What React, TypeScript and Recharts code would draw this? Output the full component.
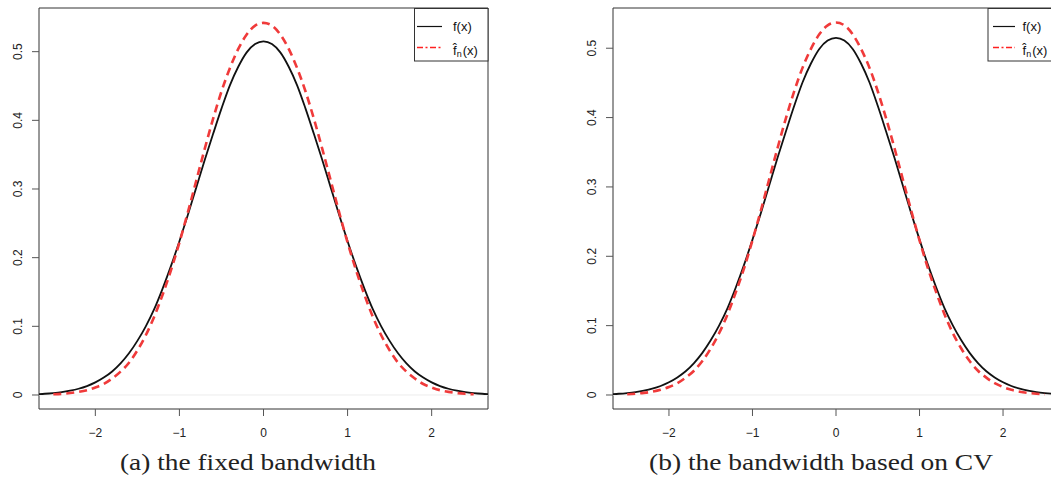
import { LineChart, Line, XAxis, YAxis, ReferenceArea, ReferenceLine } from 'recharts';

// true density f(x)
const X_TRUE = [
  -2.8, -2.7, -2.6, -2.5, -2.4, -2.3, -2.2, -2.1, -2.0, -1.9, -1.8, -1.7, -1.6, -1.5, -1.4,
  -1.3, -1.2, -1.1, -1.0, -0.9, -0.8, -0.7, -0.6, -0.5, -0.4, -0.3, -0.2, -0.1, 0.0, 0.1,
  0.2, 0.3, 0.4, 0.5, 0.6, 0.7, 0.8, 0.9, 1.0, 1.1, 1.2, 1.3, 1.4, 1.5, 1.6, 1.7, 1.8,
  1.9, 2.0, 2.1, 2.2, 2.3, 2.4, 2.5, 2.6, 2.7, 2.8,
];
const F_TRUE = [
  0.0007, 0.0012, 0.0018, 0.0028, 0.0042, 0.0063, 0.0091, 0.013, 0.0183, 0.0253, 0.0342, 0.046,
  0.0607, 0.0788, 0.1, 0.125, 0.155, 0.188, 0.224, 0.262, 0.302, 0.342, 0.38, 0.417, 0.451,
  0.478, 0.499, 0.511, 0.515, 0.511, 0.499, 0.478, 0.451, 0.417, 0.38, 0.342, 0.302, 0.262,
  0.224, 0.188, 0.155, 0.125, 0.1, 0.0788, 0.0607, 0.046, 0.0342, 0.0253, 0.0183, 0.013,
  0.0091, 0.0063, 0.0042, 0.0028, 0.0018, 0.0012, 0.0007,
];

// estimated density, red dashed curves
const X_HAT = [
  -2.5, -2.4, -2.3, -2.2, -2.1, -2.0, -1.9, -1.8, -1.7, -1.6, -1.5, -1.4, -1.3, -1.2, -1.1,
  -1.0, -0.9, -0.8, -0.7, -0.6, -0.5, -0.4, -0.3, -0.2, -0.1, 0.0, 0.1, 0.2, 0.3, 0.4, 0.5,
  0.6, 0.7, 0.8, 0.9, 1.0, 1.1, 1.2, 1.3, 1.4, 1.5, 1.6, 1.7, 1.8, 1.9, 2.0, 2.1, 2.2, 2.3,
  2.4, 2.5,
];
const FHAT_FIXED = [
  0.001, 0.0017, 0.0028, 0.0045, 0.007, 0.011, 0.016, 0.024, 0.034, 0.047, 0.065, 0.087, 0.114,
  0.146, 0.182, 0.222, 0.266, 0.312, 0.358, 0.402, 0.442, 0.476, 0.504, 0.525, 0.538, 0.542,
  0.538, 0.525, 0.504, 0.476, 0.442, 0.402, 0.358, 0.312, 0.266, 0.222, 0.182, 0.146, 0.114,
  0.087, 0.065, 0.047, 0.034, 0.024, 0.016, 0.011, 0.007, 0.0045, 0.0028, 0.0017, 0.001,
];
const FHAT_CV = [
  0.0011, 0.0018, 0.003, 0.0048, 0.0075, 0.0115, 0.017, 0.025, 0.035, 0.049, 0.067, 0.089, 0.116,
  0.148, 0.183, 0.223, 0.266, 0.311, 0.356, 0.399, 0.438, 0.472, 0.499, 0.52, 0.533, 0.537,
  0.533, 0.52, 0.499, 0.472, 0.438, 0.399, 0.356, 0.311, 0.266, 0.223, 0.183, 0.148, 0.116,
  0.089, 0.067, 0.049, 0.035, 0.025, 0.017, 0.0115, 0.0075, 0.0048, 0.003, 0.0018, 0.0011,
];

const X_TICKS = [-2, -1, 0, 1, 2];
const Y_TICKS = [0, 0.1, 0.2, 0.3, 0.4, 0.5];
const CAPTIONS = ['(a) the fixed bandwidth', '(b) the bandwidth based on CV'];
const LEGEND_TRUE = 'f(x)';

const SANS = '"Liberation Sans", Arial, Helvetica, sans-serif';
const SERIF = '"Liberation Serif", "Times New Roman", serif';
const RED = '#f03a3a';

const toPoints = (xs: number[], ys: number[]) => xs.map((x, i) => ({ x, y: ys[i] }));

function XTick(props: any) {
  const { x, y, payload } = props;
  const v = payload.value;
  const label = v < 0 ? `\u2212${Math.abs(v)}` : String(v);
  return (
    <text x={x} y={y + 21} textAnchor="middle" fontSize={12} fontFamily={SANS} fill="#222">
      {label}
    </text>
  );
}

function YTick(props: any) {
  const { x, y, payload } = props;
  const tx = x - 10;
  return (
    <text
      x={tx}
      y={y}
      transform={`rotate(-90, ${tx}, ${y})`}
      textAnchor="middle"
      fontSize={12}
      fontFamily={SANS}
      fill="#222"
    >
      {String(payload.value)}
    </text>
  );
}

interface PanelProps {
  left: number;
  yAxisWidth: number;
  marginRight: number;
  yDomain: [number, number];
  hat: number[];
}

const X_DOMAIN: [number, number] = [-2.67, 2.67];

function Panel({ left, yAxisWidth, marginRight, yDomain, hat }: PanelProps) {
  return (
    <div style={{ position: 'absolute', left, top: 0 }}>
      <LineChart
        width={500}
        height={479}
        margin={{ top: 8, right: marginRight, left: 0, bottom: 0 }}
      >
        <XAxis
          type="number"
          dataKey="x"
          domain={X_DOMAIN}
          ticks={X_TICKS}
          allowDataOverflow
          axisLine={false}
          tickLine={{ stroke: '#555' }}
          tickSize={7}
          tickMargin={0}
          height={70}
          tick={<XTick />}
          interval={0}
        />
        <YAxis
          type="number"
          dataKey="y"
          domain={yDomain}
          ticks={Y_TICKS}
          allowDataOverflow
          axisLine={false}
          tickLine={{ stroke: '#555' }}
          tickSize={7}
          tickMargin={0}
          width={yAxisWidth}
          tick={<YTick />}
          interval={0}
        />
        <ReferenceLine y={0} stroke="#ececec" strokeWidth={1} />
        <Line
          data={toPoints(X_TRUE, F_TRUE)}
          dataKey="y"
          type="monotone"
          stroke="#111"
          strokeWidth={1.8}
          dot={false}
          isAnimationActive={false}
        />
        <Line
          data={toPoints(X_HAT, hat)}
          dataKey="y"
          type="monotone"
          stroke={RED}
          strokeWidth={2.6}
          strokeDasharray="8 5"
          dot={false}
          isAnimationActive={false}
        />
        <ReferenceArea
          x1={X_DOMAIN[0]}
          x2={X_DOMAIN[1]}
          y1={yDomain[0]}
          y2={yDomain[1]}
          fill="none"
          stroke="#333"
          strokeWidth={1}
        />
      </LineChart>
    </div>
  );
}

function LegendBox({ bx, bw, lx1, lx2, tx }: { bx: number; bw: number; lx1: number; lx2: number; tx: number }) {
  return (
    <g fontFamily={SANS} fill="#111">
      <rect x={bx} y={8.5} width={bw} height={52.5} fill="#fff" stroke="#333" strokeWidth={1} />
      <line x1={lx1} x2={lx2} y1={26.5} y2={26.5} stroke="#111" strokeWidth={1.2} />
      <text x={tx} y={31} fontSize={13}>{LEGEND_TRUE}</text>
      <line x1={lx1} x2={lx2} y1={47.5} y2={47.5} stroke="#ff2020" strokeWidth={1.3} strokeDasharray="6 2.5 2 2.5" />
      <text x={tx} y={55} fontSize={13}>
        {'f\u0302'}
        <tspan fontSize={9} dy={2}>n</tspan>
        <tspan fontSize={13} dy={-2} dx={1}>(x)</tspan>
      </text>
    </g>
  );
}

export default function App() {
  return (
    <div
      style={{
        position: 'fixed',
        left: 0,
        top: 0,
        width: 1051,
        height: 479,
        overflow: 'hidden',
        background: '#fff',
      }}
    >
      <Panel left={0} yAxisWidth={39} marginRight={12} yDomain={[-0.0204, 0.5636]} hat={FHAT_FIXED} />
      <Panel left={573} yAxisWidth={40} marginRight={14} yDomain={[-0.0202, 0.558]} hat={FHAT_CV} />
      <svg
        width={1051}
        height={479}
        style={{ position: 'absolute', left: 0, top: 0, pointerEvents: 'none' }}
      >
        <LegendBox bx={414.5} bw={73.5} lx1={417} lx2={442} tx={453} />
        <LegendBox bx={988} bw={71} lx1={993} lx2={1015} tx={1022.5} />
        <text x={248} y={470} textAnchor="middle" fontSize={23} fontFamily={SERIF} fill="#222"
          textLength={256} lengthAdjust="spacingAndGlyphs">
          {CAPTIONS[0]}
        </text>
        <text x={821} y={470} textAnchor="middle" fontSize={23} fontFamily={SERIF} fill="#222"
          textLength={344} lengthAdjust="spacingAndGlyphs">
          {CAPTIONS[1]}
        </text>
      </svg>
    </div>
  );
}
